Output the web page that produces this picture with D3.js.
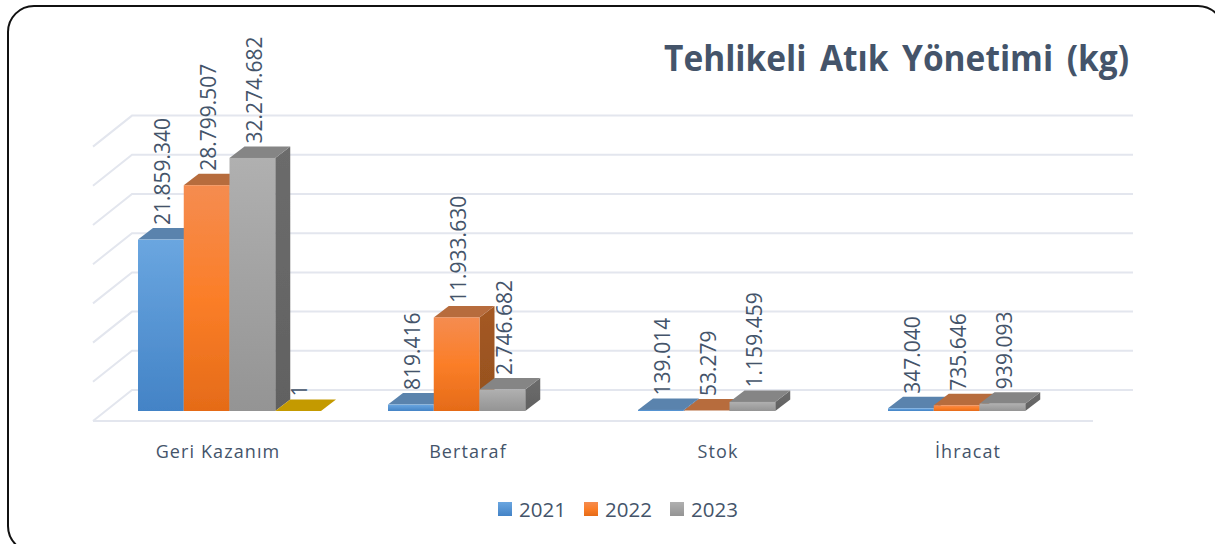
<!DOCTYPE html>
<html><head><meta charset="utf-8">
<style>html,body{margin:0;padding:0;background:#fff;overflow:hidden}svg{display:block}text{font-family:"Open Sans","Noto Sans",sans-serif}</style>
<script src="https://cdn.jsdelivr.net/npm/d3@7"></script></head>
<body><svg id="c" width="1215" height="544"></svg>
<script>
const categories = ["Geri Kazanım","Bertaraf","Stok","İhracat"];
const years = ["2021","2022","2023","Diğer"];
const values2021 = [21859340,819416,139014,347040];
const values2022 = [28799507,11933630,53279,735646];
const values2023 = [32274682,2746682,1159459,939093];
const valuesOther = [1,null,null,null];
const legendYears = ["2021","2022","2023"];
const gridTicks = [0,5e6,10e6,15e6,20e6,25e6,30e6,35e6];
const titleText = "Tehlikeli Atık Yönetimi (kg)";
const series = [values2021,values2022,values2023,valuesOther];

const palette = {
  "2021":{a:"#6aa6e0",b:"#4383c6",top:"#5a83ad",side:"#3f6f9f"},
  "2022":{a:"#f58c50",m:"#fb7e28",b:"#e56b18",top:"#b76c3e",side:"#9c5420"},
  "2023":{a:"#b0b0b0",b:"#949494",top:"#858585",side:"#666666"},
  "Diğer":{a:"#c49a00",b:"#c49a00",top:"#c49a00",side:"#9a7a00"}
};
const ink="#44546a", gridCol="#e3e6ee";
const svg=d3.select("#c");
const fmt=d3.formatLocale({decimal:",",thousands:".",grouping:[3],currency:["",""]}).format(",d");

// frame (runs off the right and bottom of the picture)
svg.append("rect").attr("x",8).attr("y",6).attr("width",1216).attr("height",546).attr("rx",26)
  .attr("fill","#fff").attr("stroke","#111").attr("stroke-width",2);

// gradients
const defs=svg.append("defs");
defs.append("filter").attr("id","soft").append("feGaussianBlur").attr("stdDeviation",0.45);
years.forEach((k,i)=>{const g=defs.append("linearGradient").attr("id","g"+i).attr("x1",0).attr("x2",0).attr("y1",0).attr("y2",1);
  const p=palette[k];g.append("stop").attr("offset","0%").attr("stop-color",p.a);
  if(p.m)g.append("stop").attr("offset","50%").attr("stop-color",p.m);
  g.append("stop").attr("offset","100%").attr("stop-color",p.b);
  const s=defs.append("linearGradient").attr("id","s"+i).attr("x1",0).attr("x2",0).attr("y1",0).attr("y2",1);
  s.append("stop").attr("offset","0%").attr("stop-color",d3.color(p.side).brighter(0.15));
  s.append("stop").attr("offset","100%").attr("stop-color",d3.color(p.side).darker(0.15));
});

const x0=d3.scaleBand().domain(categories).range([93,1093]);
const inner=d3.scaleBand().domain(years).range([0,183]);
const y=d3.scaleLinear().domain([0,35e6]).range([411,411-274.4]);
const DX=15,DY=11.5,padL=45;
const wallDX=39,wallDY=31;

// grid
const grid=svg.append("g").attr("fill","none").attr("stroke",gridCol).attr("stroke-width",2).attr("filter","url(#soft)");
gridTicks.forEach(t=>{
  const yb=y(t)-21;
  grid.append("path").attr("d",d3.line()([[93,yb+wallDY],[93+wallDX,yb],[1133,yb]]));
});
grid.append("line").attr("x1",93).attr("x2",1093).attr("y1",y(0)+10).attr("y2",y(0)+10);

// bars
const bars=svg.append("g").attr("filter","url(#soft)");
const labels=svg.append("g").attr("fill",ink).attr("font-size",21).attr("text-anchor","start");
categories.forEach((c,ci)=>{
  years.forEach((yr,si)=>{
    const v=series[si][ci]; if(v==null) return;
    const xl=x0(c)+padL+inner(yr), w=inner.bandwidth(), yt=y(v), yb=y(0), p=palette[yr];
    const line=d3.line();
    bars.append("path").attr("d",line([[xl+w,yb],[xl+w+DX,yb-DY],[xl+w+DX,yt-DY],[xl+w,yt]])+"Z").attr("fill",`url(#s${si})`);
    bars.append("path").attr("d",line([[xl,yt],[xl+DX,yt-DY],[xl+w+DX,yt-DY],[xl+w,yt]])+"Z").attr("fill",p.top);
    if(yb-yt>0.5) bars.append("rect").attr("x",xl).attr("y",yt).attr("width",w).attr("height",yb-yt).attr("fill",`url(#g${si})`);
    const lx=xl+w/2+2, ly=yt-DY-3;
    labels.append("text").attr("transform",`translate(${lx},${ly}) rotate(-90)`).attr("dy","0.35em").text(fmt(v));
  });
  svg.append("text").attr("x",x0(c)+x0.bandwidth()/2).attr("y",458).attr("text-anchor","middle")
    .attr("font-size",18).attr("letter-spacing",1.1).attr("fill",ink).text(c);
});

// title
svg.append("text").attr("x",664).attr("y",71).attr("font-size",35).attr("font-weight",700)
  .attr("fill",ink).attr("word-spacing",5).attr("textLength",465).attr("lengthAdjust","spacingAndGlyphs").text(titleText);

// legend
const legendX=d3.scaleOrdinal().domain(legendYears).range([498,584,670]);
legendYears.forEach(k=>{
  const i=years.indexOf(k);
  svg.append("rect").attr("x",legendX(k)).attr("y",502).attr("width",14).attr("height",14).attr("fill",`url(#g${i})`);
  svg.append("text").attr("x",legendX(k)+21).attr("y",517).attr("font-size",20.5).attr("fill",ink).text(k);
});
</script></body></html>
